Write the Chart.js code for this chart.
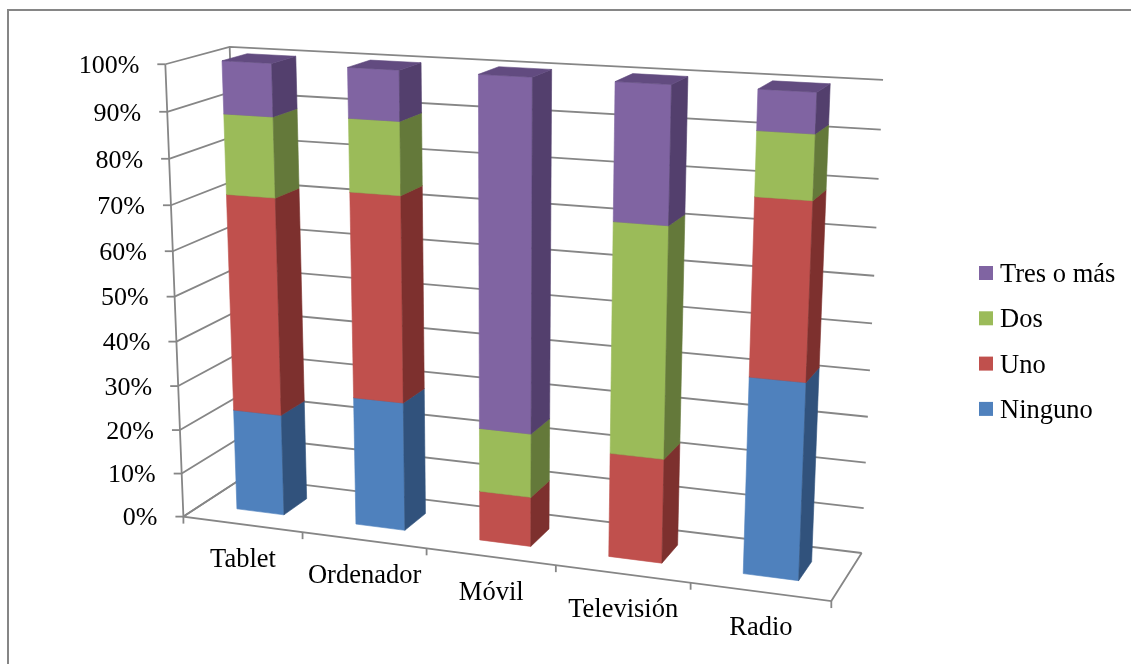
<!DOCTYPE html>
<html>
<head>
<meta charset="utf-8">
<title>Dispositivos</title>
<script src="https://cdn.jsdelivr.net/npm/chart.js@4/dist/chart.umd.js"></script>
<style>
    html, body { margin: 0; background: #fff; overflow: hidden; }
    #frame { position: absolute; left: 7px; top: 9px; right: 0; bottom: 0; border-left: 2px solid #868686; border-top: 2px solid #868686; }
    #chart { position: absolute; left: 0; top: 0; }
</style>
</head>
<body>
<div id="frame"></div>
<canvas id="chart" width="1131" height="664"></canvas>
<script>
var categories = ['Tablet', 'Ordenador', 'Móvil', 'Televisión', 'Radio'];
var ninguno = [23, 28.8, 0, 0, 42];
var uno = [48.3, 45, 11, 22.7, 36.8];
var dos = [17.4, 15.6, 14, 49, 13.1];
var tres = [11.3, 10.6, 75, 28.3, 8.1];

var FONT = '26.5px "Liberation Serif"';
var TICK_FONT = '26px "Liberation Serif"';
var GRID = '#868686';
var DEPTH = [0.3, 0.7]; // bar extent along the floor depth

// screen position of the 3D box corners, [u, v, w] -> [x, y]
var corners = [
    [0, 0, 0, 184, 516],
    [1, 0, 0, 831, 602],
    [0, 1, 0, 165, 64],
    [0, 0, 1, 243, 478],
    [0, 1, 1, 230, 47],
    [1, 0, 1, 862, 552],
    [1, 1, 1, 883, 80]
];

// least squares fit of the projection matrix
function fitProjection(pts) {
    var n = 11, A = [], i, j, k;
    for (i = 0; i < n; i++) { A.push(new Array(n + 1).fill(0)); }
    function addRow(row, rhs) {
        for (var a = 0; a < n; a++) {
            for (var b = 0; b < n; b++) A[a][b] += row[a] * row[b];
            A[a][n] += row[a] * rhs;
        }
    }
    pts.forEach(function (p) {
        var u = p[0], v = p[1], w = p[2], x = p[3] / 1000, y = p[4] / 1000;
        addRow([u, v, w, 1, 0, 0, 0, 0, -x * u, -x * v, -x * w], x);
        addRow([0, 0, 0, 0, u, v, w, 1, -y * u, -y * v, -y * w], y);
    });
    // tiny ridge, the corner list leaves one direction weakly fixed
    for (i = 0; i < n; i++) A[i][i] += 1e-9;
    for (i = 0; i < n; i++) {
        var best = i;
        for (j = i + 1; j < n; j++) if (Math.abs(A[j][i]) > Math.abs(A[best][i])) best = j;
        var t = A[i]; A[i] = A[best]; A[best] = t;
        for (j = 0; j < n; j++) {
            if (j === i) continue;
            var f = A[j][i] / A[i][i];
            for (k = i; k <= n; k++) A[j][k] -= f * A[i][k];
        }
    }
    return A.map(function (r, idx) { return r[n] / r[idx]; });
}

var P = fitProjection(corners);

function project(u, v, w) {
    var d = P[8] * u + P[9] * v + P[10] * w + 1;
    return [
        1000 * (P[0] * u + P[1] * v + P[2] * w + P[3]) / d,
        1000 * (P[4] * u + P[5] * v + P[6] * w + P[7]) / d
    ];
}

function polyline(ctx, pts) {
    ctx.beginPath();
    pts.forEach(function (p, i) {
        var s = project(p[0], p[1], p[2]);
        if (i === 0) ctx.moveTo(s[0], s[1]); else ctx.lineTo(s[0], s[1]);
    });
}

function face(ctx, pts, color) {
    polyline(ctx, pts);
    ctx.closePath();
    ctx.fillStyle = color;
    ctx.strokeStyle = color;
    ctx.lineWidth = 0.6;
    ctx.fill();
    ctx.stroke();
}

var box3d = {
    id: 'box3d',
    beforeDatasetDraw: function () { return false; }, // bars are drawn projected below

    beforeDatasetsDraw: function (chart) {
        var ctx = chart.ctx, yScale = chart.scales.y, area = chart.chartArea;
        ctx.save();
        ctx.strokeStyle = GRID;
        ctx.lineWidth = 1.8;
        ctx.fillStyle = '#000';
        ctx.font = TICK_FONT;
        ctx.textAlign = 'right';
        ctx.textBaseline = 'middle';

        yScale.ticks.forEach(function (tick) {
            var v = (area.bottom - yScale.getPixelForValue(tick.value)) / area.height;
            polyline(ctx, [[1, v, 1], [0, v, 1], [0, v, 0]]);
            ctx.stroke();
            var s = project(0, v, 0);
            ctx.beginPath();
            ctx.moveTo(s[0] - 8, s[1]);
            ctx.lineTo(s[0], s[1]);
            ctx.stroke();
            ctx.fillText(tick.value + '%', s[0] - 26, s[1] + 2);
        });

        // axis, back corner and floor
        polyline(ctx, [[0, 1, 0], [0, 0, 0], [1, 0, 0], [1, 0, 1]]);
        ctx.stroke();
        polyline(ctx, [[0, 1, 1], [0, 0, 1], [0, 0, 0]]);
        ctx.stroke();

        ctx.font = FONT;
        ctx.textAlign = 'center';
        ctx.textBaseline = 'alphabetic';
        var n = categories.length;
        for (var i = 0; i <= n; i++) {
            var a = project(i / n, 0, 0);
            ctx.beginPath();
            ctx.moveTo(a[0], a[1]);
            ctx.lineTo(a[0], a[1] + 7);
            ctx.stroke();
            if (i < n) {
                var b = project((i + 1) / n, 0, 0);
                ctx.fillText(categories[i], (a[0] + b[0]) / 2, (a[1] + b[1]) / 2 + 43);
            }
        }
        ctx.restore();
    },

    afterDatasetsDraw: function (chart) {
        var ctx = chart.ctx, area = chart.chartArea;
        var toU = function (px) { return (px - area.left) / area.width; };
        var toV = function (py) { return (area.bottom - py) / area.height; };
        var w0 = DEPTH[0], w1 = DEPTH[1];

        ctx.save();
        categories.forEach(function (c, i) {
            chart.data.datasets.forEach(function (ds, d) {
                var bar = chart.getDatasetMeta(d).data[i].getProps(['x', 'y', 'base', 'width'], true);
                if (ds.data[i] === 0) return;
                var u0 = toU(bar.x - bar.width / 2), u1 = toU(bar.x + bar.width / 2);
                var v0 = toV(bar.base), v1 = toV(bar.y);
                face(ctx, [[u0, v0, w0], [u1, v0, w0], [u1, v1, w0], [u0, v1, w0]], ds.backgroundColor);
                face(ctx, [[u1, v0, w0], [u1, v0, w1], [u1, v1, w1], [u1, v1, w0]], ds.sideColor);
                face(ctx, [[u0, v1, w0], [u1, v1, w0], [u1, v1, w1], [u0, v1, w1]], ds.topColor);
            });
        });

        // legend, top entry is the last series
        ctx.font = FONT;
        ctx.textBaseline = 'middle';
        ctx.textAlign = 'left';
        var rows = chart.data.datasets.slice().reverse();
        rows.forEach(function (ds, i) {
            var y = 273 + i * 45.3;
            ctx.fillStyle = ds.backgroundColor;
            ctx.fillRect(979, y - 7, 14, 14);
            ctx.fillStyle = '#000';
            ctx.fillText(ds.label, 1000, y + 2);
        });
        ctx.restore();
    }
};

new Chart(document.getElementById('chart'), {
    type: 'bar',
    data: {
        labels: categories,
        datasets: [
            { label: 'Ninguno', data: ninguno, backgroundColor: '#4F81BD', sideColor: '#31527C', topColor: '#3D6496' },
            { label: 'Uno', data: uno, backgroundColor: '#C0504D', sideColor: '#7D302E', topColor: '#983E3C' },
            { label: 'Dos', data: dos, backgroundColor: '#9BBB59', sideColor: '#64793A', topColor: '#7B9546' },
            { label: 'Tres o más', data: tres, backgroundColor: '#8064A2', sideColor: '#533F6D', topColor: '#624B80' }
        ]
    },
    options: {
        responsive: false,
        animation: false,
        layout: { padding: { left: 200, right: 300, top: 60, bottom: 100 } },
        datasets: { bar: { barPercentage: 0.4, categoryPercentage: 1 } },
        scales: {
            x: { stacked: true, display: false },
            y: { stacked: true, display: false, min: 0, max: 100, ticks: { stepSize: 10 } }
        },
        plugins: {
            legend: { display: false },
            tooltip: { enabled: false }
        }
    },
    plugins: [box3d]
});
</script>
</body>
</html>
